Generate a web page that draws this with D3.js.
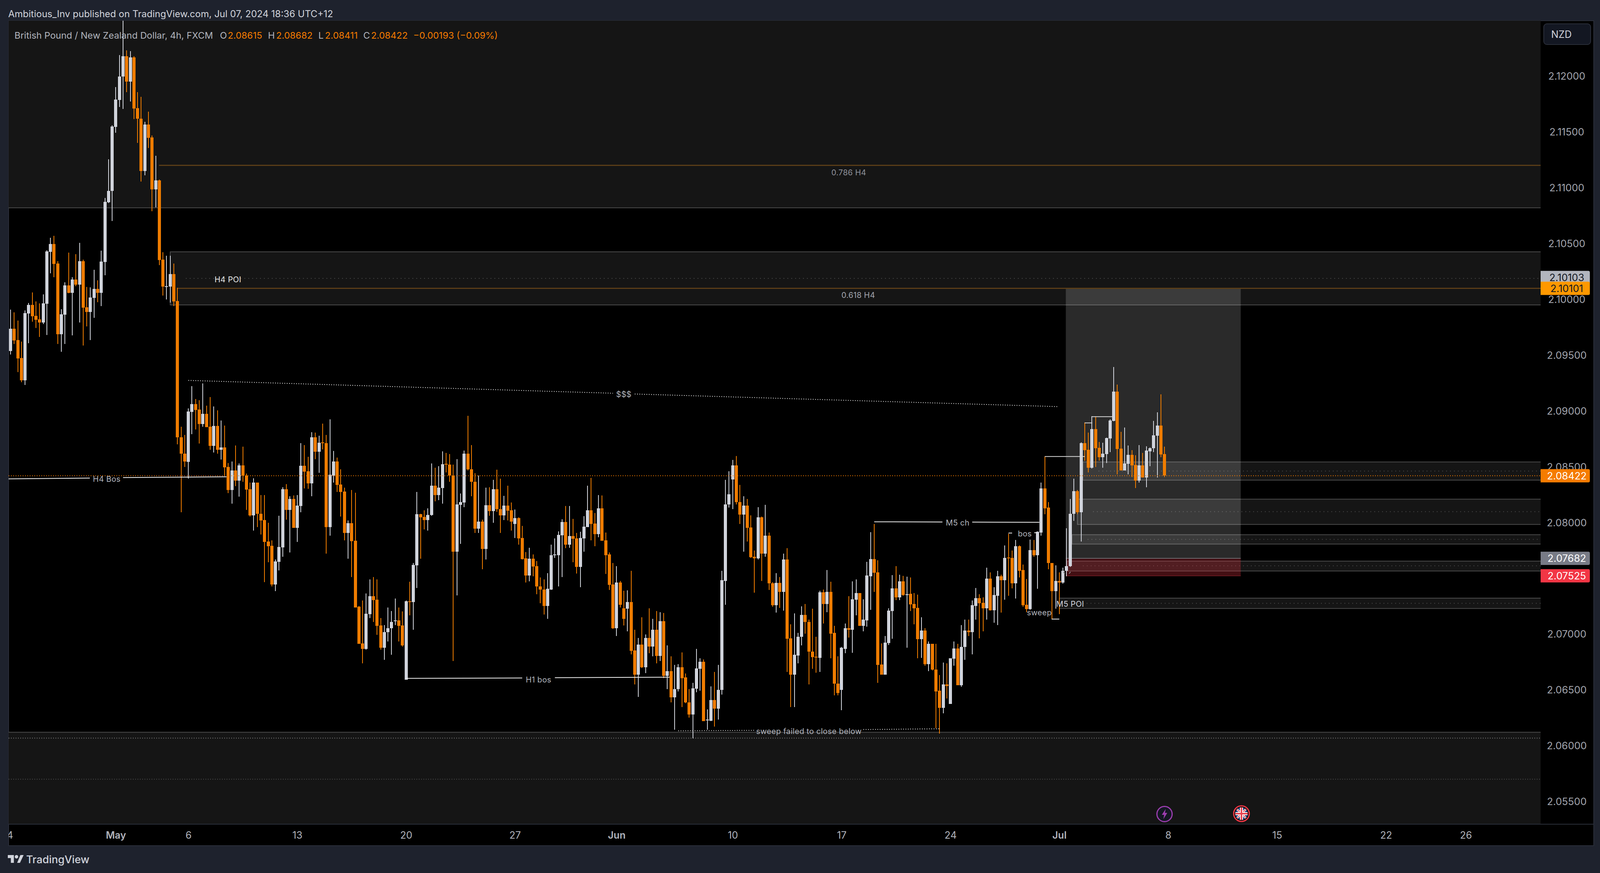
<!DOCTYPE html>
<html><head><meta charset="utf-8">
<script src="https://cdnjs.cloudflare.com/ajax/libs/d3/7.8.5/d3.min.js"></script>
<style>html,body{margin:0;padding:0;background:#1e222d}svg{display:block}text{font-family:Inter,"Noto Sans",sans-serif}</style>
</head><body><svg id="c" width="4100" height="2236"></svg>
<script>
const opens=[2.09539,2.09739,2.09637,2.09476,2.09277,2.09875,2.09952,2.09854,2.09823,2.09795,
2.09963,2.10428,2.10498,2.10323,2.0969,2.09865,2.10127,2.10061,2.1018,2.10134,
2.10344,2.09931,2.09889,2.10015,2.10096,2.10061,2.10337,2.10872,2.10973,2.11547,
2.11789,2.12,2.12181,2.11953,2.1217,2.11716,2.11621,2.11152,2.11569,2.11453,
2.10988,2.11068,2.10357,2.10116,2.10116,2.10228,2.09986,2.08768,2.08621,2.08545,
2.08993,2.09062,2.09014,2.08884,2.08975,2.0886,2.08688,2.08867,2.08653,2.08674,
2.08499,2.08293,2.08468,2.08377,2.08513,2.08425,2.083,2.08065,2.08359,2.08082,
2.08023,2.07831,2.07792,2.07446,2.07649,2.07778,2.083,2.08114,2.08212,2.07953,
2.08149,2.0851,2.08461,2.08352,2.08768,2.08636,2.0872,2.08713,2.0796,2.08425,
2.08548,2.08342,2.08279,2.07908,2.07995,2.07838,2.07246,2.0692,2.06871,2.0718,
2.07341,2.07309,2.07081,2.06882,2.07019,2.07054,2.0712,2.07124,2.07081,2.06595,
2.07295,2.07288,2.07617,2.08076,2.08051,2.08023,2.08069,2.08331,2.0825,2.0831,
2.08527,2.0852,2.08425,2.0774,2.0816,2.08181,2.08618,2.08481,2.08369,2.07949,
2.08009,2.07764,2.08156,2.08104,2.083,2.08121,2.08065,2.08153,2.08111,2.07988,
2.08041,2.07862,2.0768,2.07526,2.07677,2.0761,2.07431,2.07403,2.07253,2.07403,
2.07708,2.07708,2.07887,2.08006,2.07803,2.0788,2.07859,2.07603,2.07859,2.0796,
2.08111,2.07992,2.07897,2.08128,2.07841,2.07715,2.07446,2.07057,2.07463,2.07232,
2.07229,2.07288,2.06857,2.0664,2.0691,2.06707,2.06969,2.06892,2.07043,2.06808,
2.07117,2.06627,2.06669,2.06437,2.06508,2.06704,2.06613,2.06392,2.06283,2.06514,
2.06693,2.06756,2.06231,2.06227,2.06413,2.06336,2.06501,2.0748,2.08163,2.08387,
2.08513,2.08187,2.08072,2.08153,2.07957,2.07694,2.0768,2.08048,2.07722,2.07883,
2.07456,2.0726,2.0746,2.07379,2.0767,2.06966,2.0664,2.06812,2.06977,2.07173,
2.07113,2.06847,2.06801,2.06791,2.07376,2.07271,2.07379,2.07012,2.0656,2.06501,
2.06871,2.07057,2.0704,2.07309,2.07369,2.07078,2.07127,2.07522,2.07673,2.07554,
2.06731,2.0664,2.06924,2.07208,2.07411,2.0733,2.07474,2.07355,2.07362,2.07271,
2.07236,2.06959,2.07033,2.06735,2.06917,2.06686,2.06494,2.0634,2.0655,2.06375,
2.06784,2.06875,2.06543,2.06886,2.07036,2.07022,2.07256,2.07323,2.07281,2.07232,
2.07498,2.07215,2.07347,2.07522,2.07484,2.07687,2.07684,2.07456,2.07789,2.07575,
2.07264,2.07225,2.07754,2.07708,2.07914,2.08307,2.08135,2.07641,2.07386,2.07477,
2.07463,2.07568,2.0761,2.08079,2.08285,2.08093,2.08713,2.08653,2.08492,2.08839,
2.08671,2.08587,2.08615,2.08755,2.08912,2.09175,2.08664,2.08468,2.08527,2.08608,
2.08517,2.08377,2.08513,2.08405,2.08642,2.08667,2.08779,2.0887,2.08615];
const highs=[2.09911,2.09886,2.09812,2.09623,2.09903,2.0997,2.10064,2.09984,2.09966,2.10047,
2.10442,2.10554,2.10572,2.10344,2.09914,2.10155,2.10421,2.10201,2.10407,2.10509,
2.10358,2.10113,2.1011,2.10267,2.10173,2.10439,2.10911,2.11257,2.11561,2.11905,
2.12191,2.1254,2.12233,2.12226,2.12181,2.11859,2.11817,2.11593,2.11684,2.11471,
2.11289,2.11075,2.10424,2.10392,2.10392,2.10322,2.10105,2.0886,2.08786,2.09024,
2.09223,2.09108,2.09097,2.09248,2.09049,2.09126,2.09041,2.09007,2.08916,2.0887,
2.08534,2.08548,2.08692,2.08531,2.08681,2.0844,2.08359,2.08398,2.08359,2.0825,
2.0825,2.07999,2.07841,2.0767,2.08062,2.0832,2.08345,2.08237,2.08244,2.08247,
2.08713,2.08695,2.0859,2.08811,2.08807,2.08779,2.08887,2.08786,2.08926,2.08643,
2.08583,2.08481,2.08314,2.0802,2.08293,2.08271,2.07253,2.07302,2.07365,2.07491,
2.07512,2.07491,2.07148,2.07085,2.07239,2.07208,2.0732,2.07239,2.07204,2.07305,
2.0747,2.07641,2.08275,2.08079,2.08111,2.08128,2.08531,2.08492,2.08506,2.08639,
2.08625,2.08615,2.0852,2.08569,2.08261,2.08646,2.08957,2.08695,2.08443,2.08425,
2.08027,2.08314,2.0832,2.08384,2.08475,2.08394,2.0824,2.08331,2.08181,2.08118,
2.08048,2.07971,2.07736,2.07775,2.07715,2.07656,2.07509,2.07491,2.0755,2.07803,
2.07859,2.07922,2.0803,2.08149,2.08149,2.08034,2.07908,2.07918,2.08058,2.08331,
2.08401,2.08086,2.08247,2.08244,2.07911,2.07733,2.07641,2.07613,2.07477,2.0739,
2.07393,2.07571,2.07043,2.06969,2.07152,2.07,2.07232,2.07141,2.07208,2.07197,
2.0719,2.069,2.06802,2.06725,2.06732,2.06837,2.06651,2.06511,2.06567,2.06871,
2.06787,2.06777,2.06329,2.06535,2.06662,2.06725,2.07571,2.08384,2.08461,2.08565,
2.08597,2.08338,2.08237,2.08212,2.08065,2.0775,2.08139,2.08055,2.0816,2.07911,
2.07467,2.07547,2.07512,2.07722,2.07771,2.07089,2.07187,2.07015,2.0725,2.07271,
2.07134,2.07229,2.0698,2.0739,2.074,2.07575,2.0747,2.07075,2.06802,2.06889,
2.07099,2.07341,2.07474,2.07491,2.07369,2.07313,2.07649,2.07915,2.07988,2.07663,
2.0692,2.06987,2.07232,2.0753,2.0761,2.07533,2.07523,2.07516,2.07509,2.07369,
2.07355,2.07155,2.07054,2.06935,2.06917,2.06914,2.06634,2.06749,2.06739,2.06787,
2.06935,2.06914,2.07085,2.07131,2.07131,2.07305,2.07414,2.07358,2.07333,2.07596,
2.07554,2.07421,2.07568,2.07533,2.07796,2.07901,2.0775,2.07845,2.07796,2.07627,
2.07495,2.07848,2.07845,2.07922,2.08359,2.08594,2.08187,2.07641,2.07617,2.07554,
2.07596,2.0795,2.08212,2.08394,2.08293,2.0872,2.08898,2.08807,2.08954,2.08951,
2.08723,2.08716,2.08762,2.08926,2.09395,2.09237,2.08817,2.08853,2.08692,2.0865,
2.08604,2.08695,2.08625,2.08685,2.08674,2.08912,2.08989,2.0915,2.08682];
const lows=[2.09508,2.09602,2.0935,2.09259,2.09235,2.09609,2.09802,2.09746,2.09665,2.09781,
2.09683,2.10236,2.10201,2.09602,2.09533,2.09602,2.10057,2.0968,2.1012,2.09795,
2.09588,2.0976,2.09637,2.09837,2.09977,2.09942,2.10217,2.10865,2.10704,2.11495,
2.11726,2.11708,2.11859,2.11775,2.11617,2.11404,2.11057,2.11114,2.11359,2.10792,
2.10827,2.10308,2.10036,2.1,2.09972,2.09941,2.08705,2.08093,2.08499,2.08397,
2.08796,2.08835,2.08712,2.0886,2.08856,2.08653,2.08629,2.08621,2.08566,2.08425,
2.08265,2.08173,2.08328,2.08233,2.08369,2.08117,2.08055,2.07929,2.0796,2.07894,
2.07467,2.07645,2.07428,2.07386,2.07572,2.07694,2.08027,2.07733,2.07953,2.07827,
2.08093,2.08307,2.08303,2.08237,2.08569,2.08447,2.08657,2.07725,2.07883,2.08359,
2.08275,2.08055,2.07841,2.07677,2.07515,2.07239,2.06917,2.06742,2.06864,2.07145,
2.0711,2.06997,2.06864,2.06773,2.06938,2.06816,2.07085,2.06938,2.06892,2.06595,
2.07172,2.0704,2.07417,2.07677,2.07939,2.07929,2.08062,2.08191,2.08202,2.08173,
2.0845,2.08366,2.0676,2.07348,2.0781,2.08139,2.08468,2.08237,2.07908,2.07908,
2.07585,2.0767,2.08062,2.07999,2.08097,2.07908,2.08023,2.0802,2.07929,2.07862,
2.07803,2.0767,2.07463,2.07474,2.07519,2.07358,2.07278,2.07176,2.07138,2.07397,
2.07684,2.07431,2.07512,2.07771,2.07775,2.07645,2.07544,2.07421,2.0774,2.0796,
2.07841,2.07789,2.07869,2.07838,2.0754,2.07397,2.0705,2.06987,2.07239,2.07081,
2.07029,2.06822,2.06553,2.06441,2.06697,2.06654,2.0683,2.06805,2.06742,2.0676,
2.06609,2.06508,2.06392,2.06144,2.06487,2.0635,2.06385,2.06255,2.0607,2.0648,
2.06494,2.06221,2.06147,2.06221,2.06172,2.06238,2.06462,2.07264,2.08135,2.08121,
2.08163,2.07988,2.0774,2.07831,2.07684,2.07372,2.0767,2.0748,2.07694,2.07397,
2.07246,2.07194,2.07236,2.07211,2.06662,2.0635,2.06347,2.06739,2.069,2.07005,
2.06553,2.06693,2.06658,2.06662,2.07099,2.07197,2.06787,2.06452,2.06452,2.06322,
2.0683,2.06973,2.06836,2.07169,2.07078,2.07029,2.07071,2.07218,2.07379,2.06564,
2.0664,2.0664,2.06906,2.06962,2.07306,2.07306,2.07347,2.06879,2.07208,2.07092,
2.06787,2.06791,2.06721,2.06669,2.06676,2.06158,2.06109,2.06291,2.06424,2.06375,
2.06721,2.06543,2.06529,2.06773,2.06987,2.06822,2.07131,2.06966,2.07026,2.07131,
2.07211,2.07103,2.07085,2.07194,2.07309,2.07344,2.07411,2.0732,2.07509,2.07246,
2.07197,2.07218,2.07694,2.07407,2.07886,2.08076,2.07582,2.07137,2.07229,2.0718,
2.07453,2.07522,2.07603,2.08016,2.08076,2.07831,2.08555,2.0845,2.08485,2.08499,
2.08558,2.08492,2.08534,2.08635,2.08909,2.08433,2.08468,2.08468,2.08433,2.08408,
2.0831,2.08359,2.08405,2.08317,2.08506,2.08632,2.08405,2.08587,2.08411];
const closes=[2.09739,2.09634,2.09473,2.09277,2.09879,2.09952,2.09851,2.09819,2.09795,2.09966,
2.10432,2.10498,2.1032,2.0969,2.09868,2.10127,2.10061,2.1018,2.10134,2.10344,
2.09928,2.09889,2.10019,2.10096,2.10061,2.10341,2.10876,2.10973,2.11551,2.11793,
2.12,2.12181,2.11953,2.1217,2.11712,2.11621,2.11152,2.11569,2.1145,2.10988,
2.11068,2.10354,2.10116,2.1012,2.10228,2.09983,2.08768,2.08618,2.08548,2.08996,
2.09062,2.0901,2.08884,2.08975,2.08856,2.08688,2.08867,2.08653,2.08674,2.08496,
2.08293,2.08468,2.08377,2.08513,2.08422,2.08296,2.08065,2.08359,2.08079,2.0802,
2.07827,2.07789,2.07446,2.07652,2.07782,2.083,2.08114,2.08212,2.07953,2.08153,
2.0851,2.08457,2.08352,2.08768,2.08636,2.08716,2.08716,2.0796,2.08429,2.08548,
2.08338,2.08275,2.07908,2.07995,2.07834,2.07239,2.06917,2.06871,2.07183,2.07341,
2.07306,2.07078,2.06882,2.07022,2.07057,2.07113,2.07124,2.07078,2.06903,2.07298,
2.07288,2.07621,2.08076,2.08048,2.08023,2.08069,2.08331,2.0825,2.08314,2.08524,
2.0852,2.08422,2.0774,2.08163,2.08184,2.08618,2.08478,2.08366,2.07949,2.08009,
2.07764,2.08156,2.08104,2.083,2.08121,2.08065,2.08153,2.08107,2.08009,2.08041,
2.07859,2.07673,2.07526,2.07677,2.07607,2.07428,2.074,2.07253,2.07407,2.07711,
2.07715,2.0789,2.08006,2.07803,2.0788,2.07855,2.07603,2.07862,2.07964,2.08111,
2.07988,2.07897,2.08128,2.07838,2.07711,2.07442,2.07057,2.07463,2.07264,2.07141,
2.07288,2.06854,2.0664,2.0691,2.06707,2.06969,2.06892,2.07043,2.06808,2.07117,
2.06627,2.06669,2.06437,2.06511,2.06704,2.06609,2.06389,2.06283,2.06518,2.06696,
2.06756,2.06224,2.06235,2.06413,2.06336,2.06504,2.07484,2.08166,2.08254,2.08513,
2.08184,2.08072,2.08153,2.07953,2.07691,2.0768,2.08048,2.07722,2.07883,2.07456,
2.0726,2.0746,2.07379,2.0767,2.06962,2.0664,2.06816,2.0698,2.07173,2.0711,
2.06844,2.06795,2.06795,2.07376,2.07271,2.07379,2.07008,2.06557,2.06473,2.06879,
2.07057,2.0704,2.07313,2.07369,2.07078,2.07131,2.07526,2.07673,2.07551,2.06728,
2.0664,2.06927,2.07211,2.07411,2.0733,2.07474,2.07351,2.07358,2.07267,2.07232,
2.06959,2.07033,2.06735,2.06917,2.06683,2.0649,2.0634,2.0655,2.06539,2.06787,
2.06875,2.06543,2.06889,2.07036,2.07022,2.0726,2.07323,2.07278,2.07232,2.07498,
2.07215,2.07351,2.07522,2.07484,2.07684,2.0768,2.07456,2.07789,2.07571,2.0726,
2.07225,2.07754,2.07708,2.07918,2.08307,2.08131,2.07641,2.07386,2.07477,2.07463,
2.07571,2.07613,2.08082,2.08285,2.08093,2.08713,2.0865,2.08492,2.08839,2.08667,
2.08587,2.08618,2.08758,2.08916,2.09175,2.0866,2.08468,2.08531,2.08608,2.08513,
2.08377,2.08513,2.08405,2.08646,2.0867,2.08783,2.0887,2.08611,2.08422];

// axis labels
const priceTicks=[2.055,2.06,2.065,2.07,2.075,2.08,2.085,2.09,2.095,2.1,2.105,2.11,2.115,2.12];
const timeTickBars=[-0.2,29,49,79,109,139,167,199,229,259,289,319,349,379,401];
const timeTickLabels=["4","May","6","13","20","27","Jun","10","17","24","Jul","8","15","22","26"];
// price zones: start bar, top, mid, bottom
const zoneStart=[44,295.5,294,292.5,291.2,289];
const zoneTop=[2.10428,2.08545,2.08212,2.07893,2.07656,2.07325];
const zoneMid=[2.1019,2.08464,2.081,2.07851,2.07614,2.07278];
const zoneBottom=[2.09952,2.08382,2.07985,2.07809,2.07568,2.07232];
// trade box
const tradeBars=[290.8,339], tradeTarget=2.10101, tradeEntry=2.07682, tradeStop=2.07525;
// solid annotation lines: bar1, price1, bar2, price2
const whiteLines=[[-0.6,2.08394,21.85,2.08401],[31,2.08405,59.5,2.08412],[109,2.06606,141,2.06609],[150,2.06612,181.6,2.06616],
[238,2.08009,256.8,2.08007],[265,2.08006,283.5,2.08004],[275,2.07908,276,2.07908],[282.1,2.07911,282.7,2.07911],[286.9,2.07137,289,2.07137]];
const structLines=[[285,2.08594,296,2.08594],[296,2.08895,298.1,2.08895],[298,2.08951,303.7,2.08951]];
const dottedLines=[[49,2.09276,166,2.09161],[172,2.09154,288.6,2.09041],[184,2.06136,205,2.0614],[235,2.06147,255.9,2.06154]];
const tickMarks=[[290.1,2.0756,290.5,2.07545],[291.7,2.07545,292.1,2.0756]];
const labelText=["0.786 H4","0.618 H4","H4 POI","H4 Bos","$$$","H1 bos","sweep failed to close below","M5 ch","bos","sweep","M5 POI"];
const labelBar=[231,233.6,59.9,26.5,169,145.5,220,261,279.5,283.5,292];
const labelPrice=[2.11138,2.10039,2.10179,2.08391,2.0915,2.06595,2.06133,2.07999,2.07901,2.07194,2.07271];
const labelFill=["#8f929b","#a3a6af","#e8e8e8","#b2b5be","#b2b5be","#b2b5be","#b2b5be","#b2b5be","#b2b5be","#b2b5be","#d1d4dc"];
const priceTagValues=["2.10103","2.10101","2.08422","2.07682","2.07525"];
const priceTagAt=[2.10198,2.10101,2.08422,2.07682,2.07525];
const priceTagFill=["#b2b5be","#ff9800","#f57c00","#787b86","#f23645"];
const priceTagText=["#131722","#131722","#ffffff","#ffffff","#ffffff"];

const L=22,R=3944,T=53,B=2110,FR=4080,FB=2166;
const svg=d3.select("#c");
const x=d3.scaleLinear().domain([0,318]).range([27,2981.2]);
const y=d3.scaleLinear().domain([2.05,2.12]).range([2196.4,195.8]);
const UP="#d1d4dc",DN="#ef7c00";

svg.append("rect").attr("width",4100).attr("height",2236).attr("fill","#1e222d");
svg.append("rect").attr("x",L).attr("y",T).attr("width",FR-L).attr("height",FB-T).attr("fill","#000").attr("stroke","#2a2e39").attr("stroke-width",2);
const defs=svg.append("defs");
defs.append("clipPath").attr("id","plot").append("rect").attr("x",L).attr("y",T).attr("width",R-L).attr("height",B-T);
defs.append("clipPath").attr("id","axisclip").append("rect").attr("x",L).attr("y",B).attr("width",FR-L).attr("height",FB-B);

const plot=svg.append("g").attr("clip-path","url(#plot)");
const hl=(g,p,x1,x2,c,w,d)=>g.append("line").attr("x1",x1).attr("x2",x2).attr("y1",y(p)).attr("y2",y(p)).attr("stroke",c).attr("stroke-width",w).attr("stroke-dasharray",d||null);

// broad shaded zones
const zoneFill="#151515",zoneLine="#4a4a4a",zoneDot="#4c4c4c";
plot.append("rect").attr("x",L).attr("width",R-L).attr("y",T).attr("height",y(2.10823)-T).attr("fill",zoneFill);
hl(plot,2.10823,L,R,zoneLine,2);
plot.append("rect").attr("x",L).attr("width",R-L).attr("y",y(2.06123)).attr("height",B-y(2.06123)).attr("fill",zoneFill);
hl(plot,2.06123,L,R,zoneLine,2);
hl(plot,2.0607,L,R,"#7a7a7a",2,"2 4");
hl(plot,2.05702,L,R,"#4c4c4c",2,"2 4");

zoneStart.forEach((s,i)=>{
  plot.append("rect").attr("x",x(s)).attr("width",R-x(s)).attr("y",y(zoneTop[i])).attr("height",y(zoneBottom[i])-y(zoneTop[i])).attr("fill",zoneFill);
  hl(plot,zoneTop[i],x(s),R,zoneLine,2);
  hl(plot,zoneBottom[i],x(s),R,zoneLine,2);
  plot.append("line").attr("x1",x(s)).attr("x2",x(s)).attr("y1",y(zoneTop[i])-1).attr("y2",y(zoneBottom[i])+1).attr("stroke",zoneLine).attr("stroke-width",2);
  hl(plot,zoneMid[i],x(s)+40,R,zoneDot,2,"2 8");
});

// trade box
const bx1=x(tradeBars[0]),bx2=x(tradeBars[1]);
plot.append("rect").attr("x",bx1).attr("width",bx2-bx1).attr("y",y(tradeTarget)).attr("height",y(tradeEntry)-y(tradeTarget)).attr("fill","rgba(255,255,255,0.165)");
plot.append("rect").attr("x",bx1).attr("width",bx2-bx1).attr("y",y(tradeEntry)).attr("height",y(tradeStop)-y(tradeEntry)).attr("fill","rgba(242,54,69,0.28)");
hl(plot,tradeEntry,bx1,bx2,"#6a6a6e",2);
hl(plot,tradeStop,bx1,bx2,"#6a1a20",2);

// fib lines
hl(plot,2.11203,x(40.9),R,"#5a3d17",3);
hl(plot,tradeTarget,x(45.9),R,"#5a3d17",3);

// candles
const idx=d3.range(opens.length);
const gc=plot.append("g").attr("shape-rendering","crispEdges");
gc.selectAll(".w").data(idx).join("rect").attr("class","w")
  .attr("x",i=>Math.round(x(i))-1).attr("width",2)
  .attr("y",i=>y(highs[i])).attr("height",i=>y(lows[i])-y(highs[i]))
  .attr("fill",i=>closes[i]>=opens[i]?UP:DN);
gc.selectAll(".b").data(idx).join("rect").attr("class","b")
  .attr("x",i=>Math.round(x(i))-4).attr("width",8)
  .attr("y",i=>y(Math.max(opens[i],closes[i])))
  .attr("height",i=>Math.max(2,Math.abs(y(opens[i])-y(closes[i]))))
  .attr("fill",i=>closes[i]>=opens[i]?UP:DN);

// annotations
const seg=(g,a,c,w,d)=>g.selectAll(null).data(a).join("line")
  .attr("x1",s=>x(s[0])).attr("y1",s=>y(s[1])).attr("x2",s=>x(s[2])).attr("y2",s=>y(s[3]))
  .attr("stroke",c).attr("stroke-width",w).attr("stroke-dasharray",d||null);
seg(plot,whiteLines,"#f0f0f0",2);
seg(plot,structLines,"#d8d8d8",2);
seg(plot,dottedLines,"#e6e6e6",2,"2 4");
seg(plot,tickMarks,"#8a8a8a",2);
plot.selectAll(null).data(labelText).join("text").text(d=>d)
  .attr("x",(d,i)=>x(labelBar[i])).attr("y",(d,i)=>y(labelPrice[i]))
  .attr("text-anchor","middle").attr("dominant-baseline","central")
  .attr("font-size",20).attr("letter-spacing",0.3).attr("fill",(d,i)=>labelFill[i]);
hl(plot,closes[closes.length-1],L,R,"#f57c00",2,"2 4");

// event icons
const evt=plot.append("g").attr("transform",`translate(${x(318)},2085)`);
evt.append("circle").attr("r",19.5).attr("fill","#131722").attr("stroke","#9c3db0").attr("stroke-width",3);
evt.append("path").attr("d","M3,-13 L-7,2 L-1,2 L-3,13 L7,-3 L1,-3 Z").attr("fill","#9c3db0");
const flag=plot.append("g").attr("transform",`translate(${x(339.2)},2084)`);
defs.append("clipPath").attr("id","fl").append("circle").attr("r",16);
const fi=flag.append("g").attr("clip-path","url(#fl)");
fi.append("circle").attr("r",16).attr("fill","#1a3a7a");
[[-16,-16,16,16],[-16,16,16,-16]].forEach(c=>{
  fi.append("line").attr("x1",c[0]).attr("y1",c[1]).attr("x2",c[2]).attr("y2",c[3]).attr("stroke","#fff").attr("stroke-width",5);
  fi.append("line").attr("x1",c[0]).attr("y1",c[1]).attr("x2",c[2]).attr("y2",c[3]).attr("stroke","#e8424e").attr("stroke-width",2);
});
fi.append("rect").attr("x",-4).attr("y",-16).attr("width",8).attr("height",32).attr("fill","#fff");
fi.append("rect").attr("x",-16).attr("y",-4).attr("width",32).attr("height",8).attr("fill","#fff");
fi.append("rect").attr("x",-2).attr("y",-16).attr("width",4).attr("height",32).attr("fill","#e8424e");
fi.append("rect").attr("x",-16).attr("y",-2).attr("width",32).attr("height",4).attr("fill","#e8424e");
flag.append("circle").attr("r",20).attr("fill","none").attr("stroke","#f23645").attr("stroke-width",3);

// axes
svg.append("line").attr("x1",L).attr("x2",FR).attr("y1",B+1).attr("y2",B+1).attr("stroke","#2a2e39").attr("stroke-width",2);
const axY=svg.append("g").attr("transform",`translate(${R},0)`)
  .call(d3.axisRight(y).tickValues(priceTicks).tickFormat(d3.format(".5f")).tickSize(0));
axY.select(".domain").remove();
axY.selectAll("text").attr("x",67).attr("text-anchor","middle").attr("font-size",25.5).attr("fill","#a3a6af").attr("font-family","Inter");
const axX=svg.append("g").attr("clip-path","url(#axisclip)").append("g").attr("transform",`translate(0,${B})`)
  .call(d3.axisBottom(x).tickValues(timeTickBars).tickFormat((d,i)=>timeTickLabels[i]).tickSize(0));
axX.select(".domain").remove();
axX.selectAll("text").attr("y",30).attr("dy","0.32em").attr("font-size",25).attr("fill","#b2b5be").attr("font-family","Inter")
  .attr("font-weight",(d,i)=>/[A-Za-z]/.test(timeTickLabels[i])?600:400);

// price tags
priceTagValues.forEach((v,i)=>{
  const cy=y(priceTagAt[i]);
  svg.append("path").attr("d",`M${R},${cy-17}H4066a4,4 0 0 1 4,4V${cy+13}a4,4 0 0 1 -4,4H${R}Z`).attr("fill",priceTagFill[i]);
  svg.append("text").text(v).attr("x",4011).attr("y",cy).attr("text-anchor","middle").attr("dominant-baseline","central")
    .attr("font-size",25.5).attr("fill",priceTagText[i]);
});

// NZD button
svg.append("rect").attr("x",3952).attr("y",61).attr("width",120).attr("height",53).attr("rx",8).attr("fill","#131722").attr("stroke","#2a2e39").attr("stroke-width",2);
svg.append("text").text("NZD").attr("x",3971).attr("y",88).attr("dominant-baseline","central").attr("font-size",25).attr("fill","#d1d4dc");

// header + legend
svg.append("text").text("Ambitious_Inv published on TradingView.com, Jul 07, 2024 18:36 UTC+12").attr("x",21).attr("y",35)
  .attr("dominant-baseline","central").attr("font-size",24).attr("fill","#d1d4dc");
const legendText=["British Pound / New Zealand Dollar, 4h, FXCM","O","2.08615","H","2.08682","L","2.08411","C","2.08422","−0.00193 (−0.09%)"];
const legendX=[37,563,583,686,707,815,832,930,950,1058];
legendText.forEach((t,i)=>{
  svg.append("text").text(t).attr("x",legendX[i]).attr("y",90).attr("dominant-baseline","central").attr("font-size",i===0?23.5:23.5)
    .attr("fill",(i===0||i===1||i===3||i===5||i===7)?"#b2b5be":"#f57c00");
});

// logo
const logo=svg.append("g").attr("transform","translate(20,2190) scale(1.11)").attr("fill","#d1d4dc");
logo.append("path").attr("d","M14 18H7V7H0V0h14v18zM28 18h-6.5L29 0h7.5L28 18z");
logo.append("circle").attr("cx",20).attr("cy",4).attr("r",4);
svg.append("text").text("TradingView").attr("x",67).attr("y",2201).attr("dominant-baseline","central").attr("font-size",27).attr("font-weight",500).attr("fill","#d1d4dc");
</script></body></html>
